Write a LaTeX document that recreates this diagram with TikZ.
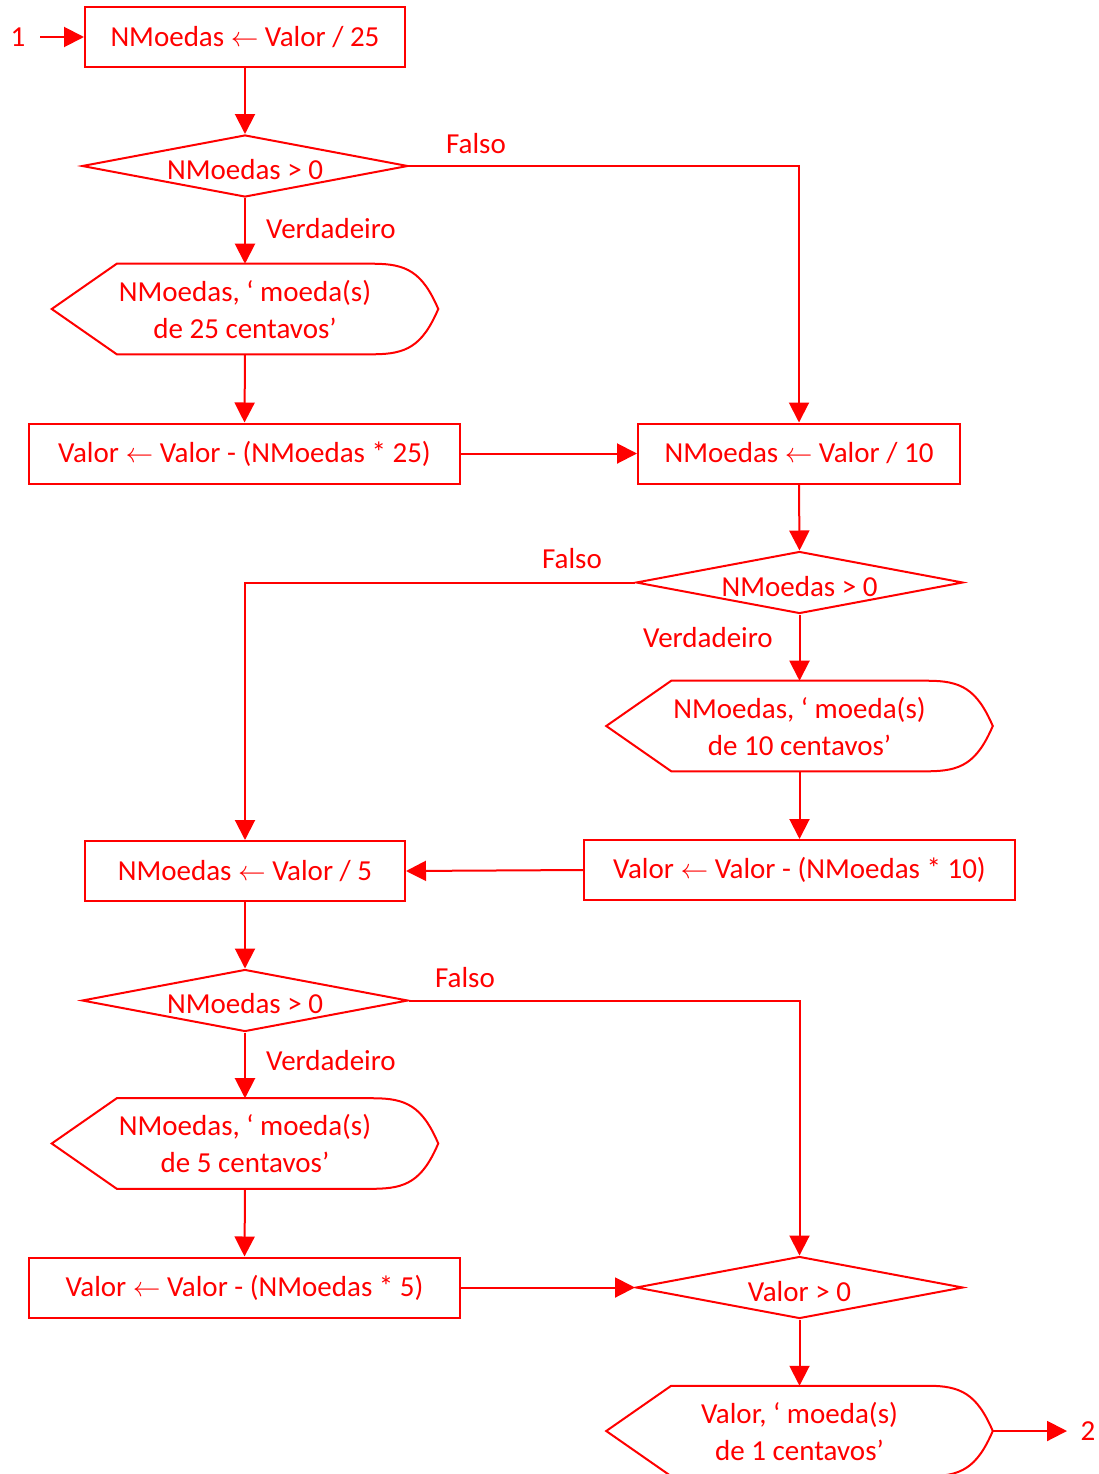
\documentclass[tikz,border=0pt]{standalone}
\usepackage{fontspec}
\setmainfont{Carlito}
\usetikzlibrary{arrows.meta,shapes.geometric,calc}
\definecolor{flowred}{RGB}{255,0,0}
\tikzset{
  flow/.style={draw=flowred, line width=1.5pt},
  arr/.style={flow, -{Triangle[length=15pt,width=15pt]}},
  txt/.style={text=flowred, font=\fontsize{21.75}{27.75}\selectfont, inner sep=0pt},
  procbox/.style={txt, draw=flowred, line width=1.5pt, rectangle, minimum height=60*0.75pt},
  decis/.style={draw=flowred, line width=1.5pt, diamond, inner sep=0pt,
    minimum width=326*0.75pt, minimum height=62*0.75pt},
  outbox/.style={txt, align=center, rectangle, minimum width=386*0.75pt, minimum height=90*0.75pt},
}
% output (display) symbol drawn around a named node
\newcommand\outline[1]{%
  \draw[flow] (#1.west) -- ($(#1.north west)+(65,0)$) -- ($(#1.north east)+(-65,0)$)
    .. controls ($(#1.north east)+(-32,0)$) and ($(#1.north east)+(-16,8)$) .. (#1.east)
    .. controls ($(#1.south east)+(-16,-8)$) and ($(#1.south east)+(-32,0)$) .. ($(#1.south east)+(-65,0)$)
    -- ($(#1.south west)+(65,0)$) -- cycle;}
\begin{document}
\begin{tikzpicture}[x=0.75pt,y=-0.75pt]
\useasboundingbox (0,0) rectangle (1099,1474);

% entry
\node[txt] (one) at (18,37) {1};
\coordinate (inA) at (40,37);
\node[procbox, minimum width=320*0.75pt] (b1) at (245,37) {NMoedas $\leftarrow$ Valor / 25};

% 25 cents
\node[decis] (d1) at (245,166) {};
\node[txt] (d1t) at (245,170) {NMoedas > 0};
\node[outbox] (o1) at (245,309) {NMoedas, ‘ moeda(s)\\de 25 centavos’};
\outline{o1}
\node[procbox, minimum width=431*0.75pt] (b2) at (244.5,453.5) {Valor $\leftarrow$ Valor - (NMoedas * 25)};

% 10 cents
\node[procbox, minimum width=322*0.75pt] (b3) at (799,453.5) {NMoedas $\leftarrow$ Valor / 10};
\node[decis, minimum width=327*0.75pt] (d2) at (799.5,582.5) {};
\node[txt] (d2t) at (799.5,587) {NMoedas > 0};
\node[outbox] (o2) at (799.5,726) {NMoedas, ‘ moeda(s)\\de 10 centavos’};
\outline{o2}
\node[procbox, minimum width=431*0.75pt] (b4) at (799.5,870) {Valor $\leftarrow$ Valor - (NMoedas * 10)};

% 5 cents
\node[procbox, minimum width=320*0.75pt] (b5) at (245,871) {NMoedas $\leftarrow$ Valor / 5};
\node[decis] (d3) at (245,1000.5) {};
\node[txt] (d3t) at (245,1004) {NMoedas > 0};
\node[outbox] (o3) at (245,1143.5) {NMoedas, ‘ moeda(s)\\de 5 centavos’};
\outline{o3}
\node[procbox, minimum width=431*0.75pt] (b6) at (244.5,1287.5) {Valor $\leftarrow$ Valor - (NMoedas * 5)};

% 1 cent
\node[decis, minimum width=327*0.75pt] (d4) at (799.5,1287.5) {};
\node[txt] (d4t) at (799.5,1292) {Valor > 0};
\node[outbox] (o4) at (799.5,1431) {Valor, ‘ moeda(s)\\de 1 centavos’};
\outline{o4}
\coordinate (outA) at (1067,1431);
\node[txt] (two) at (1088,1431) {2};

% branch labels
\node[txt] (f1) at (476,144) {Falso};
\node[txt] (v1) at (331,229) {Verdadeiro};
\node[txt] (f2) at (572,559) {Falso};
\node[txt] (v2) at (708,638) {Verdadeiro};
\node[txt] (f3) at (465,978) {Falso};
\node[txt] (v3) at (331,1061) {Verdadeiro};

% connectors
\draw[arr] (inA) -- (b1.west);
\draw[arr] (b1.south) -- (d1.north);
\draw[arr] (d1.south) -- (o1.north);
\draw[arr] (o1.south) -- (b2.north);
\draw[arr] (d1.east) -| (b3.north);
\draw[arr] (b2.east) -- (b3.west);
\draw[arr] (b3.south) -- (d2.north);
\draw[arr] (d2.south) -- (o2.north);
\draw[arr] (o2.south) -- (b4.north);
\draw[arr] (d2.west) -| (b5.north);
\draw[arr] (b4.west) -- (b5.east);
\draw[arr] (b5.south) -- (d3.north);
\draw[arr] (d3.south) -- (o3.north);
\draw[arr] (o3.south) -- (b6.north);
\draw[arr] (d3.east) -| (d4.north);
\draw[arr] (b6.east) -- (d4.west);
\draw[arr] (d4.south) -- (o4.north);
\draw[arr] (o4.east) -- (outA);
\end{tikzpicture}
\end{document}
